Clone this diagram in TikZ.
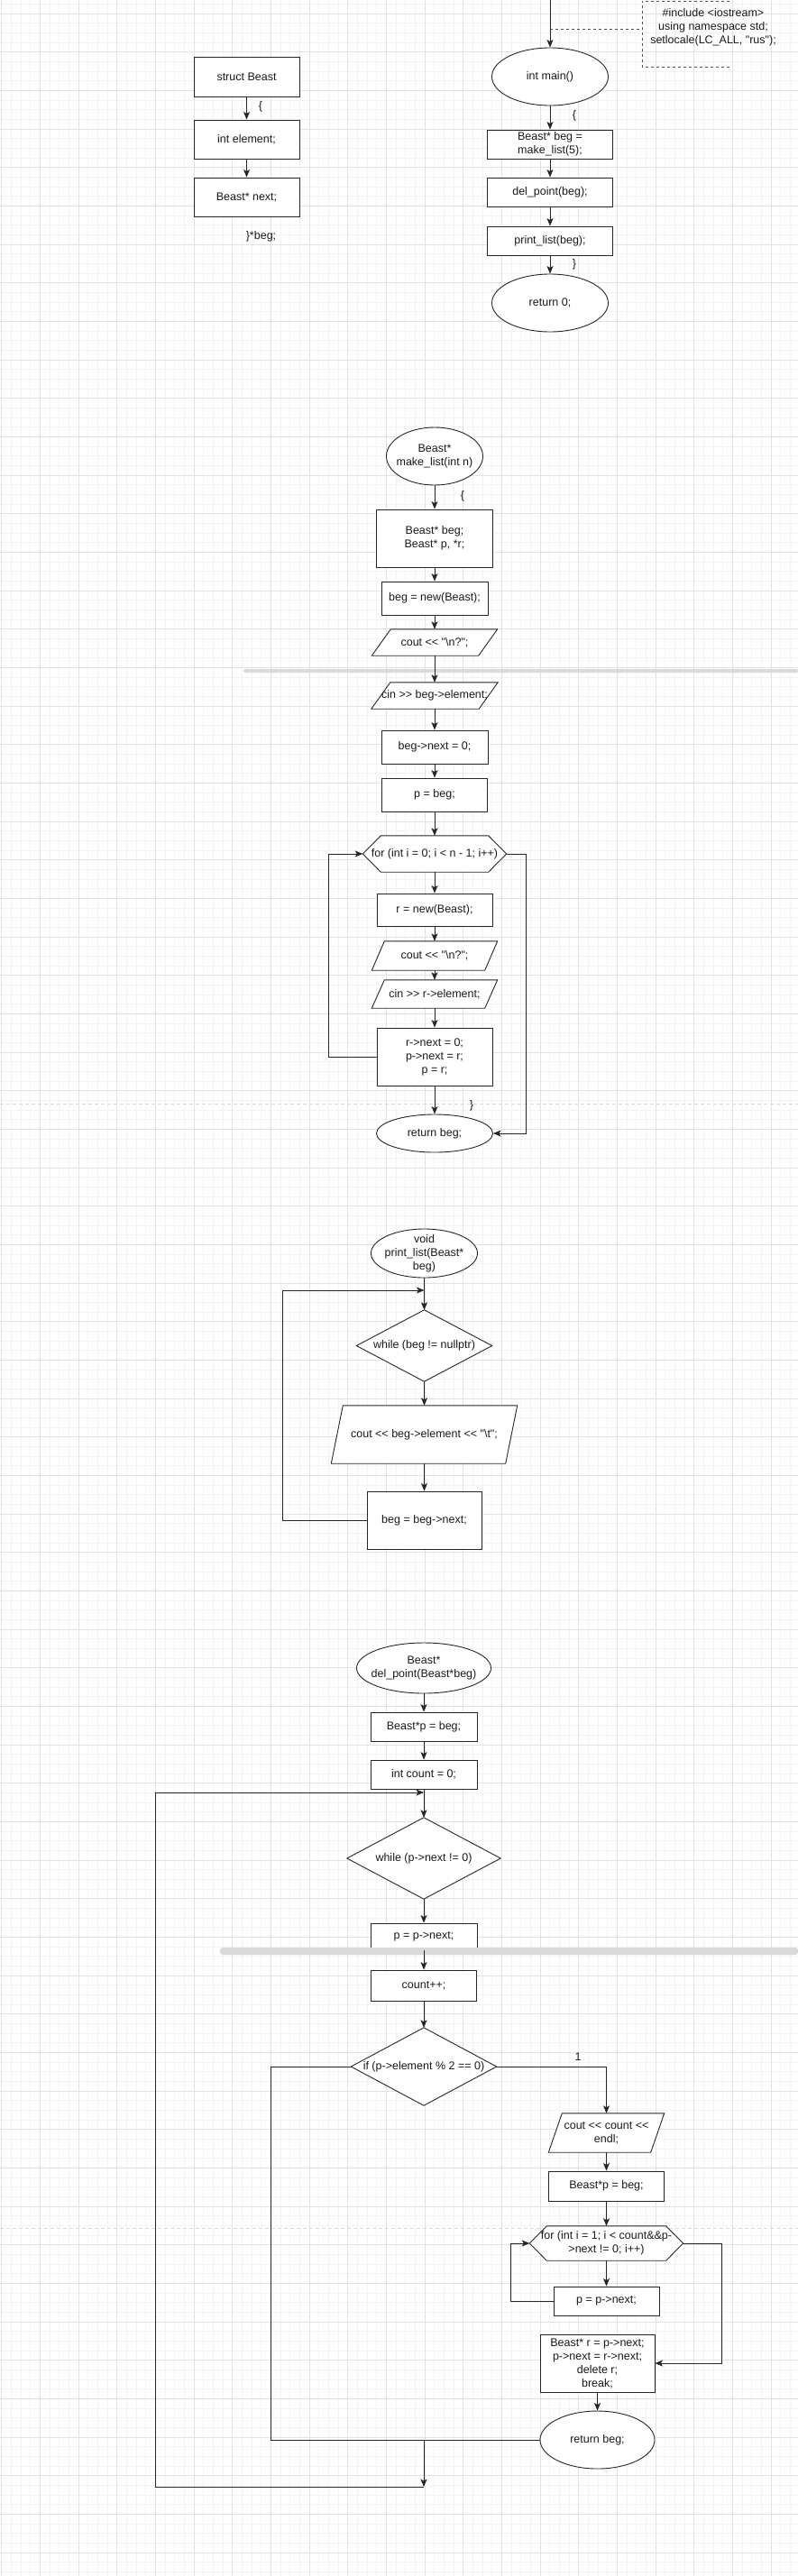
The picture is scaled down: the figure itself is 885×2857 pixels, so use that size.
\documentclass[tikz,border=0pt]{standalone}
\usepackage{fontspec}
\setmainfont{Liberation Sans}[Ligatures=TeXOff]
\usetikzlibrary{arrows.meta,shapes.geometric}
\pgfdeclarelayer{grid}
\pgfdeclarelayer{bg}
\pgfsetlayers{grid,bg,main}
\definecolor{gmin}{HTML}{F3F3F3}
\definecolor{gmaj}{HTML}{E2E2E2}
\definecolor{ink}{HTML}{1A1A1A}
\definecolor{edgec}{HTML}{262626}
\definecolor{sepc}{HTML}{DADADA}
\tikzset{
  x=1pt, y=-1pt,
  every node/.style={font=\fontsize{12.5}{15}\selectfont, text=ink},
  outl/.style={draw=edgec, line width=0.9pt, fill=white},
  box/.style={rectangle, draw=edgec, line width=0.9pt, fill=white, align=center, inner sep=1pt},
  ell/.style={ellipse, draw=edgec, line width=0.9pt, fill=white, inner sep=0pt},
  shp/.style={rectangle, inner sep=0pt, align=center},
  txt/.style={align=center, inner sep=0pt},
  conn/.style={draw=edgec, line width=0.9pt, -{Stealth[length=8.5pt,width=7pt,inset=2pt]}},
  plain/.style={draw=edgec, line width=0.9pt},
  annot/.style={draw=edgec!80, line width=0.9pt, dash pattern=on 3pt off 3pt},
}
\newcommand\paraout[2]{\draw[outl] ([xshift=#2pt]#1.north west) -- (#1.north east) -- ([xshift=-#2pt]#1.south east) -- (#1.south west) -- cycle;}
\newcommand\hexout[2]{\draw[outl] (#1.west) -- ([xshift=#2pt]#1.north west) -- ([xshift=-#2pt]#1.north east) -- (#1.east) -- ([xshift=-#2pt]#1.south east) -- ([xshift=#2pt]#1.south west) -- cycle;}
\newcommand\diaout[1]{\draw[outl] (#1.north) -- (#1.east) -- (#1.south) -- (#1.west) -- cycle;}
\begin{document}
\begin{tikzpicture}
\useasboundingbox (0,0) rectangle (885,2857);
% ---------- background grid ----------
\begin{pgfonlayer}{grid}
\fill[white] (0,0) rectangle (885,2857);
\foreach \i in {0,...,83} \draw[gmin, line width=0.6pt] ({1.7+\i*10.667},0) -- ++(0,2857);
\foreach \i in {0,...,271} \draw[gmin, line width=0.6pt] (0,{-27.67+\i*10.667}) -- ++(885,0);
\foreach \i in {0,...,21} \draw[gmaj, line width=0.8pt] ({1.7+\i*42.667},0) -- ++(0,2857);
\foreach \i in {0,...,67} \draw[gmaj, line width=0.8pt] (0,{15+\i*42.667}) -- ++(885,0);
\fill[sepc, rounded corners=2pt] (270,742) rectangle (885,746);
\draw[sepc, line width=1pt, dash pattern=on 4pt off 3pt] (0,1224) -- (885,1224);
\draw[sepc, line width=1pt, dash pattern=on 4pt off 3pt] (0,2471) -- (885,2471);
\end{pgfonlayer}

% ---------- struct ----------
\node[box, minimum width=117pt, minimum height=44pt] (sb) at (273.5,85) {struct Beast};
\node[box, minimum width=117pt, minimum height=43pt] (ie) at (273.5,154.5) {int element;};
\node[box, minimum width=117pt, minimum height=43pt] (bnx) at (273.5,218.5) {Beast* next;};
\node (br1) at (289,118) {\{};
\node (br2) at (289.5,262) {\}*beg;};
\draw[conn] (sb) -- (ie);
\draw[conn] (ie) -- (bnx);

% ---------- main ----------
\coordinate (top) at (610,0);
\coordinate (dj) at (610,32);
\node[ell, minimum width=129pt, minimum height=64pt] (mn) at (610,85) {int main()};
\node[box, minimum width=139pt, minimum height=32pt] (mk) at (610,160) {Beast* beg =\\make\_list(5);};
\node[box, minimum width=139pt, minimum height=32pt] (dp) at (610,213) {del\_point(beg);};
\node[box, minimum width=139pt, minimum height=32pt] (pl) at (610,267) {print\_list(beg);};
\node[ell, minimum width=129pt, minimum height=64pt] (r0) at (610,336) {return 0;};
\node (br3) at (637,128) {\{};
\node (br4) at (637,293) {\}};
\node[txt] (inc) at (791,30) {\#include <iostream>\\using namespace std;\\setlocale(LC\_ALL, "rus");};
\coordinate (bt1) at (809,1);
\coordinate (bt2) at (712,1);
\coordinate (bt3) at (712,74);
\coordinate (bt4) at (809,74);
\coordinate (bt5) at (712,32);
\draw[annot] (bt1) -- (bt2) -- (bt3) -- (bt4);
\draw[annot] (dj) -- (bt5);
\draw[conn] (top) -- (mn);
\draw[conn] (mn) -- (mk);
\draw[conn] (mk) -- (dp);
\draw[conn] (dp) -- (pl);
\draw[conn] (pl) -- (r0);

% ---------- make_list ----------
\node[ell, minimum width=107pt, minimum height=64pt, label={[txt]center:Beast*\\make\_list(int n)}] (mkl) at (482,506) {};
\node (br5) at (513,550) {\{};
\node[box, minimum width=129pt, minimum height=64pt] (decl) at (482,597) {Beast* beg;\\Beast* p, *r;};
\node[box, minimum width=118pt, minimum height=37pt] (nb) at (482,663.5) {beg = new(Beast);};
\node[shp, minimum width=139pt, minimum height=29pt] (c1) at (482,712.5) {cout << "\textbackslash n?";};
\node[shp, minimum width=140pt, minimum height=29pt] (ci1) at (482,771.5) {cin >> beg->element;};
\node[box, minimum width=118pt, minimum height=37pt] (bx0) at (482,828.5) {beg->next = 0;};
\node[box, minimum width=117pt, minimum height=37pt] (pb) at (482,881.5) {p = beg;};
\node[shp, minimum width=159pt, minimum height=40pt] (f1) at (482,947) {for (int i = 0; i < n - 1; i++)};
\node[box, minimum width=128pt, minimum height=36pt] (rn) at (482,1009) {r = new(Beast);};
\node[shp, minimum width=139pt, minimum height=32pt] (c2) at (482,1060) {cout << "\textbackslash n?";};
\node[shp, minimum width=139pt, minimum height=31pt] (ci2) at (482,1102.5) {cin >> r->element;};
\node[box, minimum width=128pt, minimum height=64pt] (up) at (482,1172) {r->next = 0;\\p->next = r;\\p = r;};
\node[ell, minimum width=129pt, minimum height=42pt] (rb1) at (482,1257) {return beg;};
\node (br6) at (523,1226) {\}};
\begin{pgfonlayer}{bg}
\paraout{c1}{21}
\paraout{ci1}{21}
\paraout{c2}{14}
\paraout{ci2}{14}
\hexout{f1}{20}
\end{pgfonlayer}
\draw[conn] (mkl) -- (decl);
\draw[conn] (decl) -- (nb);
\draw[conn] (nb) -- (c1);
\draw[conn] (c1) -- (ci1);
\draw[conn] (ci1) -- (bx0);
\draw[conn] (bx0) -- (pb);
\draw[conn] (pb) -- (f1);
\draw[conn] (f1) -- (rn);
\draw[conn] (rn) -- (c2);
\draw[conn] (c2) -- (ci2);
\draw[conn] (ci2) -- (up);
\draw[conn] (up) -- (rb1);
\draw[conn] (up.west) -| (364,947) -- (f1.west);
\draw[conn] (f1.east) -- (583,947) |- (rb1.east);

% ---------- print_list ----------
\node[ell, minimum width=118pt, minimum height=54pt, label={[txt]center:void\\print\_list(Beast*\\beg)}] (ple) at (470.5,1390) {};
\coordinate (pj) at (470.5,1431);
\node[shp, minimum width=150pt, minimum height=79pt] (wh) at (470.5,1492.5) {while (beg != nullptr)};
\node[shp, minimum width=206pt, minimum height=64pt] (co) at (470.5,1591) {cout << beg->element << "\textbackslash t";};
\node[box, minimum width=127pt, minimum height=64pt] (bb) at (470.5,1686) {beg = beg->next;};
\begin{pgfonlayer}{bg}
\diaout{wh}
\paraout{co}{13}
\end{pgfonlayer}
\draw[conn] (ple) -- (wh);
\draw[conn] (wh) -- (co);
\draw[conn] (co) -- (bb);
\draw[conn] (bb.west) -| (313,1431) -- (pj);

% ---------- del_point ----------
\node[ell, minimum width=149pt, minimum height=56pt, label={[txt]center:Beast*\\del\_point(Beast*beg)}] (dpe) at (470,1850) {};
\node[box, minimum width=118pt, minimum height=32pt] (bp) at (470,1915) {Beast*p = beg;};
\node[box, minimum width=118pt, minimum height=32pt] (ic) at (470,1968) {int count = 0;};
\coordinate (wj) at (470,1988);
\node[shp, minimum width=170pt, minimum height=90pt] (wd) at (470,2061) {while (p->next != 0)};
\node[box, minimum width=118pt, minimum height=30pt] (pn) at (470,2148) {p = p->next;};
\fill[sepc, rounded corners=3pt] (244,2160) rectangle (885,2168);
\node[box, minimum width=117pt, minimum height=34pt] (cnt) at (470,2202) {count++;};
\node[shp, minimum width=161pt, minimum height=86pt] (ifd) at (470,2292) {if (p->element \% 2 == 0)};
\node (one) at (641,2281) {1};
\node[shp, minimum width=128pt, minimum height=43pt] (cc) at (672.5,2365.5) {cout << count <<\\endl;};
\node[box, minimum width=128pt, minimum height=33pt] (bp2) at (672.5,2424.5) {Beast*p = beg;};
\node[shp, minimum width=170pt, minimum height=38pt] (f2) at (672.5,2488) {for (int i = 1; i < count\&\&p-\\>next != 0; i++)};
\node[box, minimum width=117pt, minimum height=32pt] (pn2) at (672.5,2552) {p = p->next;};
\node[box, minimum width=127pt, minimum height=64pt] (fin) at (662.5,2621) {Beast* r = p->next;\\p->next = r->next;\\delete r;\\break;};
\node[ell, minimum width=127pt, minimum height=64pt] (rb2) at (662.5,2706) {return beg;};
\coordinate (mj) at (470,2706);
\coordinate (bj) at (470,2758);
\begin{pgfonlayer}{bg}
\diaout{wd}
\diaout{ifd}
\paraout{cc}{15}
\hexout{f2}{19}
\end{pgfonlayer}
\draw[conn] (dpe) -- (bp);
\draw[conn] (bp) -- (ic);
\draw[conn] (ic) -- (wd);
\draw[conn] (wd) -- (pn);
\draw[conn] (pn) -- (cnt);
\draw[conn] (cnt) -- (ifd);
\draw[conn] (ifd.east) -| (cc.north);
\draw[conn] (cc) -- (bp2);
\draw[conn] (bp2) -- (f2);
\draw[conn] (f2) -- (pn2);
\draw[conn] (pn2.west) -| (566,2488) -- (f2.west);
\draw[conn] (f2.east) -- (800,2488) |- (fin.east);
\draw[conn] (fin) -- (rb2);
\draw[plain] (ifd.west) -| (300,2706) -- (rb2.west);
\draw[conn] (mj) -- (bj);
\draw[conn] (bj) -| (172,1988) -- (wj);
\end{tikzpicture}
\end{document}
